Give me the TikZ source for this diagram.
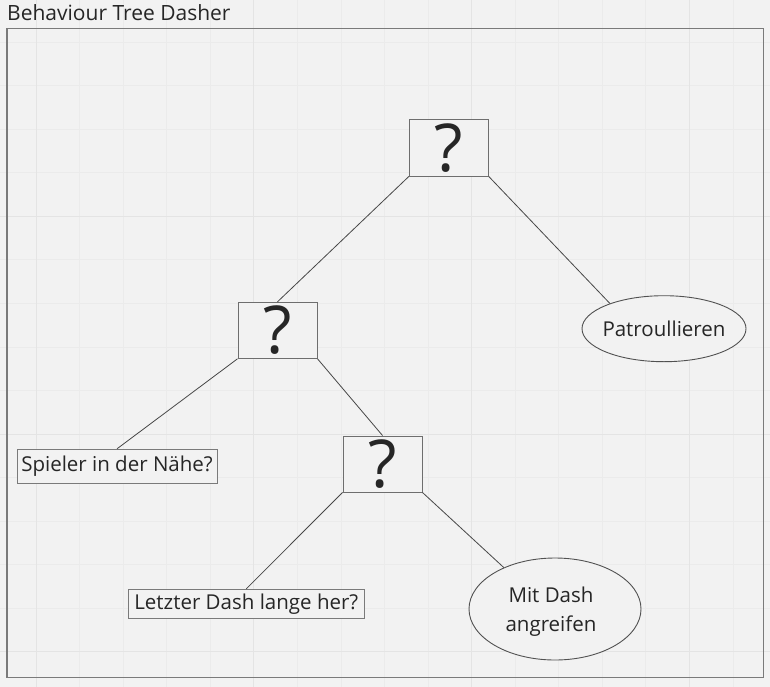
\documentclass[tikz,border=0pt]{standalone}
\usepackage{fontspec}
\setmainfont{Open Sans}
\usepackage{tikz}
\usepackage{xcolor}
\usetikzlibrary{shapes.geometric}

\definecolor{canvas}{HTML}{F2F2F2}
\definecolor{minorgrid}{HTML}{EBEBEB}
\definecolor{majorgrid}{HTML}{E4E4E4}
\definecolor{frameline}{HTML}{7A7A7A}
\definecolor{ink}{HTML}{262626}

\begin{document}
\begin{tikzpicture}[x=1pt, y=-1pt,
    txt/.style={font=\fontsize{20.5}{29}\selectfont, text=ink},
    choice/.style={draw=frameline!90!black, fill=canvas, line width=1pt, minimum width=79pt, minimum height=56pt, inner sep=0pt, font=\fontsize{66}{66}\selectfont, text=ink},
    cond/.style={draw=frameline, fill=canvas, line width=1pt, txt, inner sep=0pt},
    act/.style={draw=ink!80, fill=canvas, line width=0.9pt, ellipse, txt, inner xsep=-20pt, inner ysep=-5pt, align=center},
    edge/.style={draw=ink!85, line width=0.8pt}]
            % canvas and grid
            \useasboundingbox (0,0) rectangle (770,687);
            \fill[canvas] (0,0) rectangle (770,687);
            \foreach \i in {0,...,16} {
                \pgfmathsetmacro{\gx}{36+43.56*\i}
                \draw[minorgrid, line width=0.8pt] (\gx,0) -- (\gx,687);
            }
            \foreach \i in {0,...,14} {
                \pgfmathsetmacro{\gy}{42+43.56*\i}
                \draw[minorgrid, line width=0.8pt] (0,\gy) -- (770,\gy);
            }
            \foreach \gx in {36,253.8,471.6,689.4} \draw[majorgrid, line width=1pt] (\gx,0) -- (\gx,687);
            \foreach \gy in {216.2,434,651.8} \draw[majorgrid, line width=1pt] (0,\gy) -- (770,\gy);

            % frame
            \node[txt, font=\fontsize{21}{26}\selectfont, anchor=base west, inner sep=0pt] (title) at (7,20.5) {Behaviour Tree Dasher};
            \draw[frameline, line width=1.5pt] (7,28.3) rectangle (763.3,677.7);

            % tree
            \node[choice] (root) at (448.8,148) {?};
            \node[choice] (left) at (277.5,330.3) {?};
            \node[choice] (dash) at (382.5,464) {?};
            \node[act, minimum width=164pt, minimum height=66pt] (patrol) at (664,328.7) {Patroullieren};
            \node[cond, minimum width=200pt, minimum height=34pt] (near) at (117,466.3) {Spieler in der Nähe?};
            \node[cond, minimum width=236pt, minimum height=29pt] (last) at (246.3,603.8) {Letzter Dash lange her?};
            \node[act, minimum width=172pt, minimum height=102pt] (attack) at (555,609) {};
            \node[txt, align=center, inner sep=0pt] (attacktext) at (551,612) {Mit Dash\\angreifen};

            \draw[edge] (root.south west) -- (left.north);
            \draw[edge] (root.south east) -- (patrol.155);
            \draw[edge] (left.south west) -- (near.north);
            \draw[edge] (left.south east) -- (dash.north);
            \draw[edge] (dash.south west) -- (last.north);
            \draw[edge] (dash.south east) -- (attack.141);
        \end{tikzpicture}
\end{document}
